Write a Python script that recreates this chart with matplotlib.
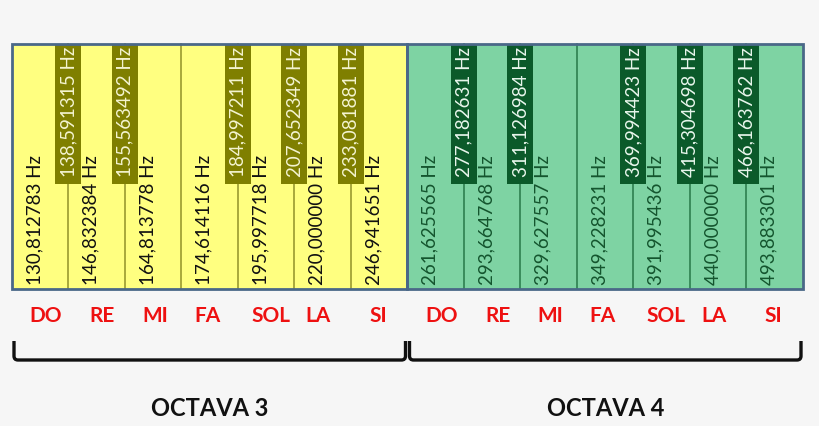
import matplotlib.pyplot as plt
from matplotlib.patches import Rectangle
from matplotlib.path import Path
from matplotlib.patches import PathPatch

notes = ['DO', 'RE', 'MI', 'FA', 'SOL', 'LA', 'SI']
white_o3 = ['130,812783', '146,832384', '164,813778', '174,614116', '195,997718', '220,000000', '246,941651']
black_o3 = ['138,591315', '155,563492', '184,997211', '207,652349', '233,081881']
white_o4 = ['261,625565', '293,664768', '329,627557', '349,228231', '391,995436', '440,000000', '493,883301']
black_o4 = ['277,182631', '311,126984', '369,994423', '415,304698', '466,163762']
octaves = ['OCTAVA 3', 'OCTAVA 4']

# black keys sit on the boundary after these white keys
black_after = [0, 1, 3, 4, 5]
# note label offset within each key (fraction of key width)
label_off = [0.6, 0.6, 0.53, 0.46, 0.58, 0.42, 0.48]

styles = [
    dict(white='#ffff80', black='#7f7f00', line='#9a9a30', wtext='#111111', btext='#f4f4d0'),
    dict(white='#7ed3a3', black='#0b5a2a', line='#2e8050', wtext='#14552e', btext='#e8f6ec'),
]

fig = plt.figure(figsize=(8.2, 4.26), dpi=100)
fig.patch.set_facecolor('#f6f6f6')
ax = fig.add_axes([0, 0, 1, 1])
ax.set_xlim(0, 820)
ax.set_ylim(426, 0)
ax.axis('off')

x0, top, bot = 12, 44, 289
ow = (803 - 12) / 2
kw = ow / 7
bw, bh = 26, 140
font = 'Lato'

for o, (whites, blacks) in enumerate([(white_o3, black_o3), (white_o4, black_o4)]):
    s = styles[o]
    ox = x0 + o * ow
    ax.add_patch(Rectangle((ox, top), ow, bot - top, facecolor=s['white'], edgecolor='none', zorder=1))
    for i in range(1, 7):
        ax.plot([ox + i * kw] * 2, [top, bot], color=s['line'], lw=1.2, zorder=2)
    for i, v in enumerate(whites):
        ax.text(ox + (i + 0.4) * kw, bot - 4, v + ' Hz', rotation=90, ha='center', va='bottom',
                fontsize=13.5, color=s['wtext'], family=font, zorder=3)
        ax.text(ox + (i + label_off[i]) * kw, 316, notes[i], ha='center', va='center',
                fontsize=15, color='#ee1111', fontweight='bold', family=font)
    for j, v in enumerate(blacks):
        cx = ox + (black_after[j] + 1) * kw
        ax.add_patch(Rectangle((cx - bw / 2, top), bw, bh, facecolor=s['black'], edgecolor='none', zorder=4))
        ax.text(cx, top + 3, v + ' Hz', rotation=90, ha='center', va='top',
                fontsize=13.5, color=s['btext'], family=font, zorder=5)
    # bracket
    l, r, y1, y2, rr = ox + 2, ox + ow - 2, 341, 360, 4
    verts = [(l, y1), (l, y2 - rr), (l, y2), (l + rr, y2), (r - rr, y2), (r, y2), (r, y2 - rr), (r, y1)]
    codes = [Path.MOVETO, Path.LINETO, Path.CURVE3, Path.CURVE3, Path.LINETO, Path.CURVE3, Path.CURVE3, Path.LINETO]
    ax.add_patch(PathPatch(Path(verts, codes), facecolor='none', edgecolor='#111111', lw=2.4))
    ax.text(ox + ow / 2, 408, octaves[o], ha='center', va='center', fontsize=17,
            fontweight='bold', color='#111111', family=font)

ax.add_patch(Rectangle((x0, top), ow, bot - top, facecolor='none', edgecolor='#4a6888', lw=2, zorder=6))
ax.add_patch(Rectangle((x0 + ow, top), ow, bot - top, facecolor='none', edgecolor='#4a6888', lw=2, zorder=6))

fig.savefig('out.png', dpi=100, facecolor=fig.get_facecolor())
